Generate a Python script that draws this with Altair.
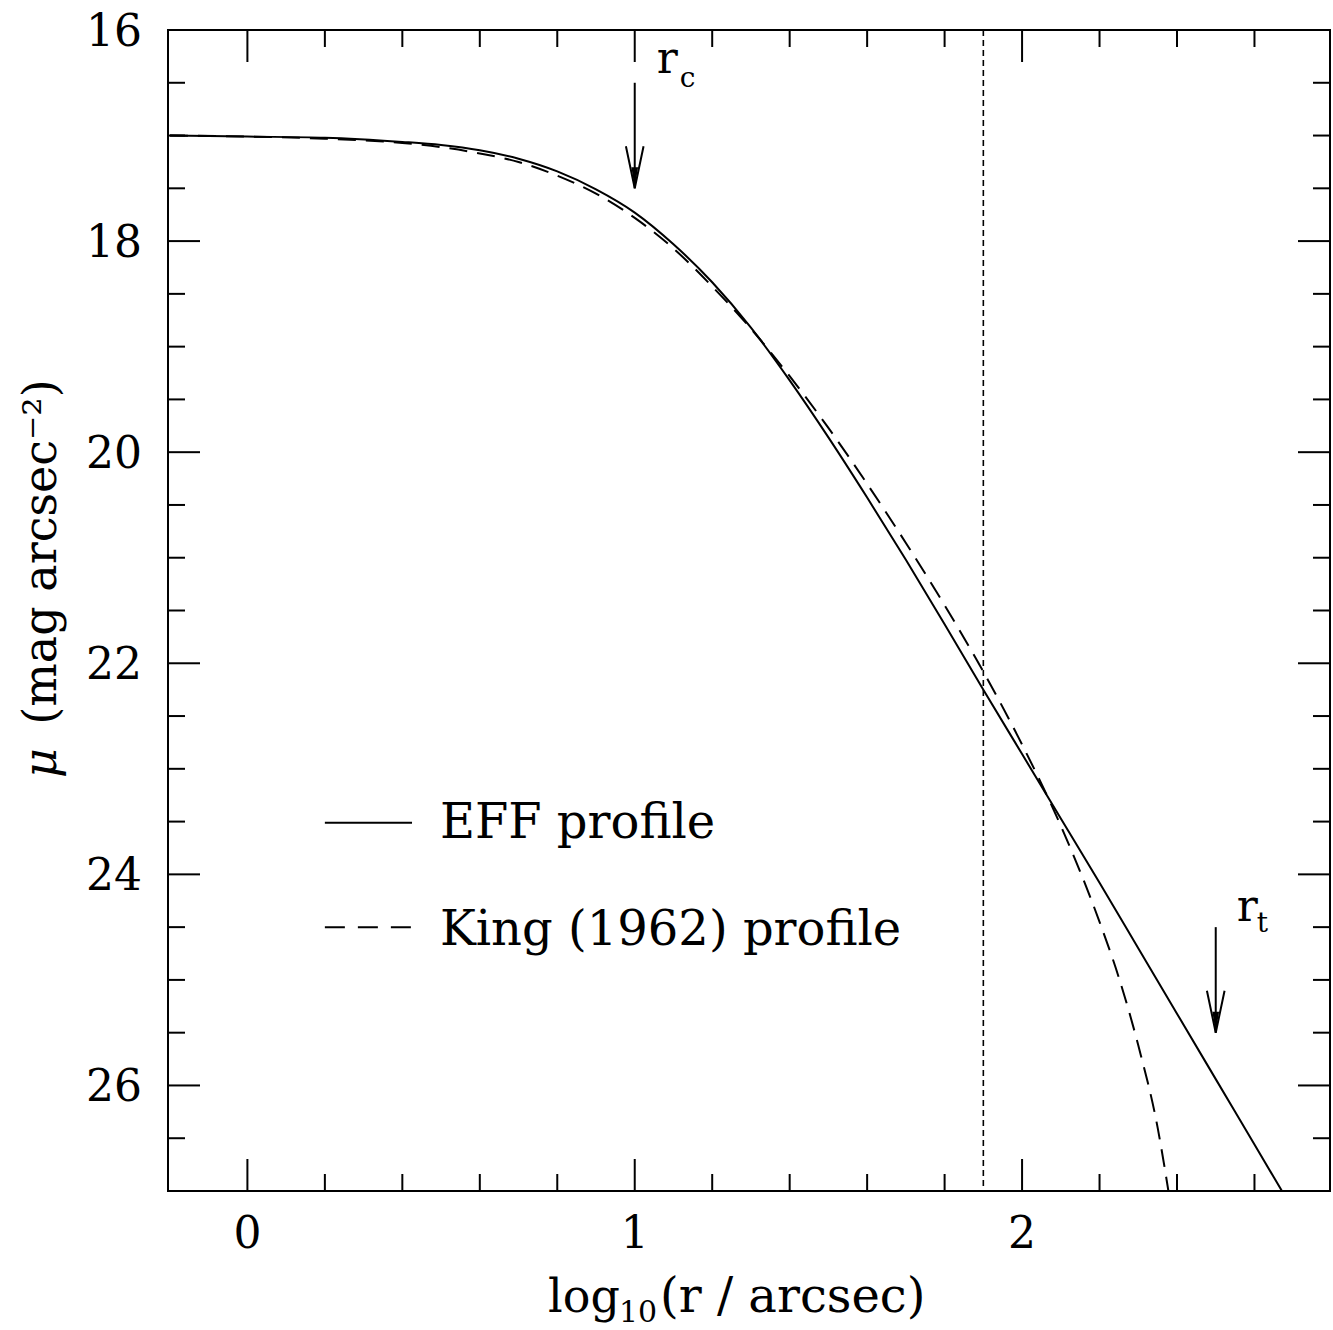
import altair as alt
import pandas as pd

# ---- data ----
eff_x = [-0.2, 0.0, 0.2, 0.4, 0.5, 0.6, 0.7, 0.8, 0.9, 1.0, 1.1, 1.2, 1.3, 1.4,
         1.5, 1.6, 1.7, 1.8, 1.9, 2.0, 2.1, 2.2, 2.3, 2.4, 2.5, 2.6, 2.7]
eff_mu = [17.00, 17.01, 17.02, 17.06, 17.09, 17.14, 17.22, 17.34, 17.51, 17.73,
          18.03, 18.39, 18.82, 19.32, 19.86, 20.43, 21.02, 21.63, 22.25, 22.86,
          23.47, 24.08, 24.70, 25.32, 25.94, 26.56, 27.18]

king_x = [-0.2, 0.0, 0.2, 0.4, 0.5, 0.6, 0.7, 0.8, 0.9, 1.0, 1.1, 1.2, 1.3, 1.4,
          1.5, 1.6, 1.7, 1.8, 1.9, 2.0, 2.1, 2.2, 2.25, 2.3, 2.35, 2.38]
king_mu = [17.00, 17.01, 17.03, 17.07, 17.11, 17.17, 17.25, 17.38, 17.55, 17.78,
           18.07, 18.43, 18.83, 19.28, 19.77, 20.30, 20.86, 21.45, 22.08, 22.77,
           23.54, 24.45, 24.98, 25.62, 26.40, 27.05]

vline_x = [1.9]

arrow_x = [1.0, 2.5]
arrow_top = [16.5, 24.5]
arrow_tip = [17.5, 25.5]

label_main = ["r", "r"]
label_main_x = [1.057, 2.554]
label_main_mu = [16.41, 24.44]
label_sub = ["c", "t"]
label_sub_x = [1.116, 2.606]
label_sub_mu = [16.54, 24.55]

legend_names = ["EFF profile", "King (1962) profile"]
legend_x0 = [0.2, 0.2]
legend_x1 = [0.425, 0.425]
legend_line_mu = [23.51, 24.50]
legend_text_x = [0.497, 0.497]
legend_text_mu = [23.66, 24.67]

x_major = [0, 1, 2]
x_tick_labels = ["0", "1", "2"]
x_minor = [0.2, 0.4, 0.6, 0.8, 1.2, 1.4, 1.6, 1.8, 2.2, 2.4, 2.6]
y_major = [18, 20, 22, 24, 26]
y_minor = [16.5, 17, 17.5, 18.5, 19, 19.5, 20.5, 21, 21.5, 22.5, 23, 23.5,
           24.5, 25, 25.5, 26.5]
y_labels = [16, 18, 20, 22, 24, 26]
y_tick_labels = ["16", "18", "20", "22", "24", "26"]

x_title_parts = ["log", "10", "(r / arcsec)"]
y_title_symbol = "μ"
y_title_rest = "(mag arcsec⁻²)"

# ---- layout ----
W, H = 1162, 1161
FONT = "DejaVu Serif"
MAJ, MIN = 32, 17

xs = alt.Scale(domain=[-0.205, 2.795], nice=False, zero=False)
ys = alt.Scale(domain=[16, 27], reverse=True, nice=False, zero=False)


def X(field):
    return alt.X(field, scale=xs, axis=None)


def Y(field):
    return alt.Y(field, scale=ys, axis=None)


eff_df = pd.DataFrame({"x": eff_x, "mu": eff_mu})
king_df = pd.DataFrame({"x": king_x, "mu": king_mu})

eff = alt.Chart(eff_df).mark_line(color="black", strokeWidth=2,
                                  interpolate="monotone", clip=True).encode(
    x=X("x:Q"), y=Y("mu:Q"))

king = alt.Chart(king_df).mark_line(color="black", strokeWidth=2,
                                    strokeDash=[18, 10],
                                    interpolate="monotone", clip=True).encode(
    x=X("x:Q"), y=Y("mu:Q"))

vline = alt.Chart(pd.DataFrame({"x": vline_x})).mark_rule(
    color="black", strokeWidth=1.6, strokeDash=[6, 4]).encode(
    x=X("x:Q"), y=alt.value(0), y2=alt.value(H))


def xticks(vals, length):
    d = pd.DataFrame({"v": vals})
    b = alt.Chart(d).mark_rule(color="black", strokeWidth=2).encode(
        x=X("v:Q"), y=alt.value(H), y2=alt.value(H - length))
    t = alt.Chart(d).mark_rule(color="black", strokeWidth=2).encode(
        x=X("v:Q"), y=alt.value(0), y2=alt.value(length))
    return [b, t]


def yticks(vals, length):
    d = pd.DataFrame({"v": vals})
    l = alt.Chart(d).mark_rule(color="black", strokeWidth=2).encode(
        y=Y("v:Q"), x=alt.value(0), x2=alt.value(length))
    r = alt.Chart(d).mark_rule(color="black", strokeWidth=2).encode(
        y=Y("v:Q"), x=alt.value(W), x2=alt.value(W - length))
    return [l, r]


ticks = xticks(x_major, MAJ) + xticks(x_minor, MIN) + yticks(y_major, MAJ) + yticks(y_minor, MIN)

# tick labels and axis titles
xlab = alt.Chart(pd.DataFrame({"v": x_major, "t": x_tick_labels})).mark_text(
    font=FONT, fontSize=44, align="center", baseline="alphabetic", color="black").encode(
    x=X("v:Q"), y=alt.value(H + 57), text="t:N")
ylab = alt.Chart(pd.DataFrame({"v": y_labels, "t": y_tick_labels})).mark_text(
    font=FONT, fontSize=44, align="right", baseline="middle", color="black", dy=3).encode(
    y=Y("v:Q"), x=alt.value(-26), text="t:N")

xt_log = alt.Chart(pd.DataFrame({"t": [x_title_parts[0]]})).mark_text(
    font=FONT, fontSize=46, align="left", baseline="alphabetic", color="black").encode(
    x=alt.value(380), y=alt.value(H + 121), text="t:N")
xt_sub = alt.Chart(pd.DataFrame({"t": [x_title_parts[1]]})).mark_text(
    font=FONT, fontSize=30, align="left", baseline="alphabetic", color="black").encode(
    x=alt.value(451), y=alt.value(H + 131), text="t:N")
xt_rest = alt.Chart(pd.DataFrame({"t": [x_title_parts[2]]})).mark_text(
    font=FONT, fontSize=48, align="left", baseline="alphabetic", color="black").encode(
    x=alt.value(492), y=alt.value(H + 121), text="t:N")

yt_mu = alt.Chart(pd.DataFrame({"t": [y_title_symbol]})).mark_text(
    font=FONT, fontSize=46, fontStyle="italic", align="center", baseline="alphabetic",
    color="black", angle=270).encode(
    x=alt.value(-112), y=alt.value(733), text="t:N")
yt_rest = alt.Chart(pd.DataFrame({"t": [y_title_rest]})).mark_text(
    font=FONT, fontSize=46, align="center", baseline="alphabetic", color="black",
    angle=270).encode(
    x=alt.value(-112), y=alt.value(522), text="t:N")

arr_df = pd.DataFrame({"x": arrow_x, "top": arrow_top, "tip": arrow_tip})
shaft = alt.Chart(arr_df).mark_rule(color="black", strokeWidth=2).encode(
    x=X("x:Q"), y=Y("top:Q"), y2="tip:Q")
head = alt.Chart(arr_df).mark_point(
    shape="M -0.21 -1 L 0 0 L 0.21 -1", size=7056, filled=False,
    color="black", strokeWidth=2, opacity=1).encode(
    x=X("x:Q"), y=Y("tip:Q"))
headfill = alt.Chart(arr_df).mark_point(
    shape="M -0.08 -0.5 L 0 0 L 0.08 -0.5 Z", size=7056, filled=True,
    color="black", opacity=1).encode(
    x=X("x:Q"), y=Y("tip:Q"))

lab_main = alt.Chart(pd.DataFrame({"t": label_main, "x": label_main_x, "mu": label_main_mu})).mark_text(
    font=FONT, fontSize=44, align="left", baseline="alphabetic", color="black").encode(
    x=X("x:Q"), y=Y("mu:Q"), text="t:N")
lab_sub = alt.Chart(pd.DataFrame({"t": label_sub, "x": label_sub_x, "mu": label_sub_mu})).mark_text(
    font=FONT, fontSize=28, align="left", baseline="alphabetic", color="black").encode(
    x=X("x:Q"), y=Y("mu:Q"), text="t:N")

leg_df = pd.DataFrame({"name": legend_names, "x0": legend_x0, "x1": legend_x1,
                       "ly": legend_line_mu, "tx": legend_text_x, "ty": legend_text_mu})
leg_solid = alt.Chart(leg_df.iloc[[0]]).mark_rule(color="black", strokeWidth=2).encode(
    x=X("x0:Q"), x2="x1:Q", y=Y("ly:Q"))
leg_dash = alt.Chart(leg_df.iloc[[1]]).mark_rule(color="black", strokeWidth=2,
                                                 strokeDash=[20, 13]).encode(
    x=X("x0:Q"), x2="x1:Q", y=Y("ly:Q"))
leg_text = alt.Chart(leg_df).mark_text(font=FONT, fontSize=48, align="left",
                                       baseline="alphabetic", color="black").encode(
    x=X("tx:Q"), y=Y("ty:Q"), text="name:N")

chart = alt.layer(eff, king, vline, *ticks, xlab, ylab,
                  xt_log, xt_sub, xt_rest, yt_mu, yt_rest,
                  shaft, head, headfill,
                  lab_main, lab_sub, leg_solid, leg_dash, leg_text).properties(
    width=W, height=H,
    padding={"left": 168, "top": 30, "right": 3, "bottom": 139},
    autosize=alt.AutoSizeParams(type="none"),
    background="white",
).configure_view(stroke="black", strokeWidth=2)

chart.save("out.html", embed_options={"renderer": "svg", "actions": False})
